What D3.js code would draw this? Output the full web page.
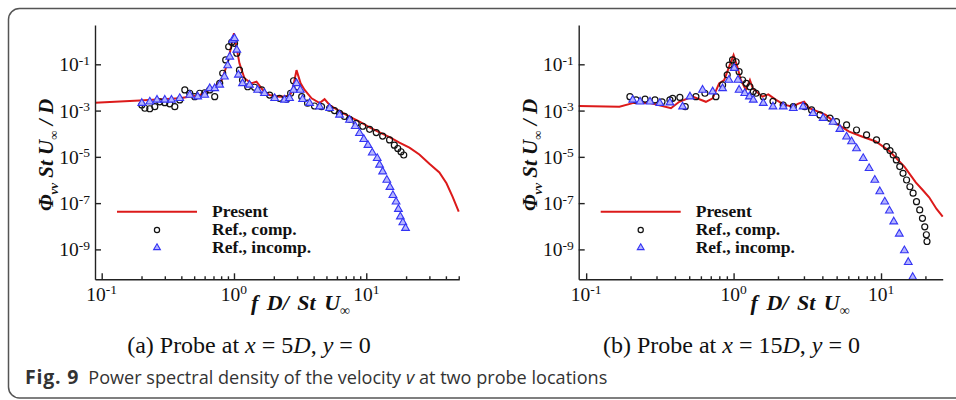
<!doctype html>
<html>
<head>
<meta charset="utf-8">
<title>Fig. 9 - PSD of v</title>
<style>
    body { margin: 0; padding: 0; background: #fff; }
    svg text { font-family: "Liberation Serif", "Times New Roman", serif; fill: #111; }
    svg text.caption { font-family: "Open Sans", sans-serif; fill: #333; }
</style>
</head>
<body>
<svg id="fig" width="956" height="400"></svg>
<script src="https://d3js.org/d3.v7.min.js"></script>
<script>
// (a) probe at x = 5D : [f D / St U, Phi_vv St U / D]
var presentA = [[0.089,2.2e-3],[0.194,2.7e-3],[0.39,3.4e-3],[0.55,4.7e-3],[0.69,9.1e-3],[0.81,2.1e-2],
    [0.90,0.129],[1.0,2.19],[1.10,0.110],[1.20,2.5e-2],[1.35,1.5e-2],[1.48,1.78e-2],[1.65,7.8e-3],
    [1.86,4.7e-3],[2.21,4.0e-3],[2.63,4.3e-3],[2.77,7.8e-3],[2.97,5.6e-2],[3.19,1.5e-2],[3.42,7.8e-3],
    [3.86,3.4e-3],[4.44,2.1e-3],[4.84,3.1e-3],[5.28,1.74e-3],[6.28,9.5e-4],[7.47,5.5e-4],[8.89,3.3e-4],
    [10.6,1.86e-4],[12.6,1.15e-4],[15.0,7.1e-5],[17.8,4.1e-5],[21.2,2.5e-5],[25.2,1.26e-5],[30.0,5.0e-6],
    [35.7,2.1e-6],[40.4,7.2e-7],[44.9,1.9e-7],[50.0,4.3e-8]];
var compA = [[0.201,1.74e-3],[0.212,1.26e-3],[0.231,1.2e-3],[0.252,1.48e-3],[0.275,2.4e-3],[0.300,2.2e-3],
    [0.327,1.95e-3],[0.357,1.48e-3],[0.389,2.9e-3],[0.425,7.8e-3],[0.463,5.6e-3],[0.505,4.0e-3],
    [0.551,5.6e-3],[0.601,5.9e-3],[0.656,7.8e-3],[0.715,4.0e-3],[0.780,1.5e-2],[0.822,4.1e-2],
    [0.866,0.155],[0.912,0.575],[0.961,0.89],[1.01,0.81],[1.05,0.30],[1.10,5.6e-2],[1.16,2.1e-2],
    [1.27,1.07e-2],[1.43,1.02e-2],[1.62,7.8e-3],[1.86,4.7e-3],[2.21,3.4e-3],[2.50,3.1e-3],[2.68,5.6e-3],
    [2.82,1.95e-2],[3.03,1.07e-2],[3.25,4.0e-3],[3.60,2.1e-3],[4.06,1.58e-3],[4.59,1.48e-3],[5.28,1.26e-3],
    [5.75,1.0e-3],[6.28,7.6e-4],[6.85,5.6e-4],[7.47,4.2e-4],[8.39,2.8e-4],[9.41,2.1e-4],[10.6,1.55e-4],
    [11.9,1.12e-4],[13.3,7.9e-5],[15.0,5.4e-5],[16.3,3.2e-5],[17.3,2.3e-5],[18.3,1.66e-5],[19.2,1.2e-5]];
var incompA = [[0.201,2.1e-3],[0.231,2.4e-3],[0.262,2.9e-3],[0.300,2.9e-3],[0.337,2.9e-3],[0.389,3.4e-3],
    [0.463,4.7e-3],[0.532,4.0e-3],[0.601,4.7e-3],[0.656,9.1e-3],[0.715,9.1e-3],[0.780,1.29e-2],
    [0.847,2.9e-2],[0.896,8.9e-2],[0.929,0.21],[0.978,1.12],[1.01,1.32],[1.05,0.42],[1.08,3.5e-2],
    [1.16,1.5e-2],[1.31,1.29e-2],[1.51,7.8e-3],[1.70,5.6e-3],[2.03,3.4e-3],[2.41,2.9e-3],[2.63,3.4e-3],
    [2.82,7.8e-3],[2.97,1.5e-2],[3.17,7.8e-3],[3.30,3.1e-3],[3.73,2.1e-3],[4.44,1.48e-3],[5.28,1.26e-3],
    [6.28,6.5e-4],[7.47,3.9e-4],[8.25,2.1e-4],[8.89,1.05e-4],[9.58,5.8e-5],[10.3,3.2e-5],[11.1,1.51e-5],
    [12.1,8.7e-6],[12.6,4.5e-6],[13.3,2.3e-6],[14.3,1.0e-6],[15.1,4.9e-7],[15.9,2.2e-7],[16.8,1.15e-7],
    [17.5,5.5e-8],[18.1,2.6e-8],[18.9,1.45e-8],[19.8,8.3e-9]];

// (b) probe at x = 15D
var presentB = [[0.089,1.58e-3],[0.168,1.48e-3],[0.207,2.1e-3],[0.268,2.2e-3],[0.376,1.26e-3],[0.428,2.4e-3],
    [0.527,4.0e-3],[0.649,2.4e-3],[0.721,3.4e-3],[0.798,1.5e-2],[0.863,2.1e-2],[0.933,7.9e-2],[1.0,0.25],
    [1.06,7.9e-2],[1.12,2.1e-2],[1.21,7.8e-3],[1.29,2.1e-2],[1.35,9.1e-3],[1.57,4.0e-3],[1.72,5.0e-3],
    [1.94,2.9e-3],[2.2,1.8e-3],[2.51,1.48e-3],[2.75,2.0e-3],[3.01,2.4e-3],[3.26,1.26e-3],[3.6,1.0e-3],
    [4.22,6.5e-4],[4.94,2.8e-4],[6.08,1.23e-4],[7.49,7.4e-5],[9.22,4.6e-5],[11.4,1.78e-5],[14.4,3.8e-6],
    [17.2,7.9e-7],[19.3,3.5e-7],[21.2,1.78e-7],[23.8,5.6e-8],[26.2,2.6e-8]];
var compB = [[0.198,4.0e-3],[0.218,2.9e-3],[0.251,3.1e-3],[0.293,2.9e-3],[0.327,2.4e-3],[0.370,2.9e-3],
    [0.386,3.4e-3],[0.432,3.7e-3],[0.470,1.48e-3],[0.555,4.0e-3],[0.639,5.6e-3],[0.759,4.0e-3],
    [0.842,1.29e-2],[0.905,3.5e-2],[0.933,9.3e-2],[0.984,0.155],[1.04,0.129],[1.09,4.8e-2],[1.15,2.1e-2],
    [1.22,1.5e-2],[1.29,1.07e-2],[1.36,6.6e-3],[1.42,5.6e-3],[1.59,4.0e-3],[1.85,2.5e-3],[2.17,1.74e-3],
    [2.54,1.48e-3],[3.04,1.48e-3],[3.38,1.07e-3],[3.85,6.5e-4],[4.50,4.7e-4],[4.99,3.3e-4],[5.84,2.4e-4],
    [6.82,1.45e-4],[7.98,8.9e-5],[9.32,5.4e-5],[10.9,2.75e-5],[11.5,1.86e-5],[12.1,1.2e-5],[12.7,7.4e-6],
    [13.4,3.8e-6],[14.1,1.95e-6],[14.9,1.0e-6],[15.7,5.1e-7],[16.5,2.7e-7],[17.4,1.15e-7],[18.3,5.1e-8],
    [19.1,2.2e-8],[19.8,9.5e-9],[20.3,4.3e-9],[20.5,2.2e-9]];
var incompB = [[0.207,2.9e-3],[0.232,2.4e-3],[0.271,2.4e-3],[0.316,2.1e-3],[0.370,2.2e-3],[0.451,1.48e-3],
    [0.506,4.0e-3],[0.616,7.8e-3],[0.721,6.6e-3],[0.842,9.1e-3],[0.929,2.1e-2],[1.01,6.8e-2],[1.07,2.1e-2],
    [1.09,7.8e-3],[1.19,5.6e-3],[1.28,4.0e-3],[1.36,2.9e-3],[1.59,2.1e-3],[1.85,1.48e-3],[2.17,1.48e-3],
    [2.54,1.26e-3],[2.96,1.48e-3],[3.46,7.6e-4],[4.05,4.7e-4],[4.73,3.2e-4],[5.26,1.58e-4],[5.84,7.4e-5],
    [6.31,4.6e-5],[6.82,2.3e-5],[7.57,8.7e-6],[8.30,3.2e-6],[9.07,1.0e-6],[9.81,3.2e-7],[10.6,1.15e-7],
    [11.4,4.7e-8],[12.2,1.58e-8],[13.3,4.7e-9],[14.4,8.9e-10],[15.3,2.8e-10],[16.4,6.3e-11]];

var xMajor = [0.1, 1, 10];
var xMajorExp = ["-1", "0", "1"];
var xMinorA = [0.2,0.3,0.4,0.5,0.6,0.7,0.8,0.9,2,3,4,5,6,7,8,9,20,30,40,50];
var xMinorB = [0.2,0.3,0.4,0.5,0.6,0.7,0.8,0.9,2,3,4,5,6,7,8,9,20];
var yMajor = [1e-1, 1e-3, 1e-5, 1e-7, 1e-9];
var yMajorExp = ["-1", "-3", "-5", "-7", "-9"];
var legendLabels = ["Present", "Ref., comp.", "Ref., incomp."];

var red = "#dc1a1a", blue = "#3434f4", black = "#111";

var svg = d3.select("#fig");

svg.append("rect")
    .attr("x", 8.5).attr("y", 8.5)
    .attr("width", 990).attr("height", 389.5)
    .attr("rx", 11)
    .style("fill", "none")
    .style("stroke", "#555")
    .style("stroke-width", 1.5);

function drawPanel(p) {
    var top = 25, bottom = 279.3;

    var x = d3.scaleLog().domain(p.xDomain).range([p.left, p.right]);
    var y = d3.scaleLog().domain([5.1e-11, 5]).range([bottom, top]);

    var g = svg.append("g");

    var line = d3.line()
        .x(function(d) { return x(d[0]); })
        .y(function(d) { return y(d[1]); });

    g.append("path")
        .datum(p.present)
        .attr("d", line)
        .style("fill", "none")
        .style("stroke", red)
        .style("stroke-width", 2);

    g.selectAll(".comp")
        .data(p.comp)
        .enter().append("circle")
        .attr("class", "comp")
        .attr("cx", function(d) { return x(d[0]); })
        .attr("cy", function(d) { return y(d[1]); })
        .attr("r", 3)
        .style("fill", "none")
        .style("stroke", black)
        .style("stroke-width", 1.2);

    var tri = d3.symbol().type(d3.symbolTriangle).size(26);
    g.selectAll(".incomp")
        .data(p.incomp)
        .enter().append("path")
        .attr("class", "incomp")
        .attr("d", tri)
        .attr("transform", function(d) { return "translate(" + x(d[0]) + "," + y(d[1]) + ")"; })
        .style("fill", "#b4b4ff")
        .style("stroke", blue)
        .style("stroke-width", 1.1);

    // axes, ticks pointing inward
    g.append("g")
        .attr("transform", "translate(" + p.left + ",0)")
        .call(d3.axisLeft(y).tickValues(yMajor).tickSizeInner(-6).tickSizeOuter(0).tickFormat(""));

    g.append("g")
        .attr("transform", "translate(0," + bottom + ")")
        .call(d3.axisBottom(x).tickValues(xMajor).tickSizeInner(-6).tickSizeOuter(0).tickFormat(""));

    var xMinor = g.append("g")
        .attr("transform", "translate(0," + bottom + ")")
        .call(d3.axisBottom(x).tickValues(p.xMinor).tickSizeInner(-3).tickSizeOuter(0).tickFormat(""));
    xMinor.select(".domain").remove();

    g.selectAll(".domain, .tick line").style("stroke", "#222").style("stroke-width", 1.4);

    // tick labels 10^n
    var yLab = g.selectAll(".ylab")
        .data(yMajor)
        .enter().append("text")
        .attr("class", "ylab")
        .attr("x", p.left - 5)
        .attr("y", function(d) { return y(d) + 7; })
        .attr("text-anchor", "end")
        .style("font-size", "19.5px");
    yLab.append("tspan").text("10");
    yLab.append("tspan")
        .attr("dy", -6.5)
        .style("font-size", "13.5px")
        .text(function(d, i) { return yMajorExp[i]; });

    var xLab = g.selectAll(".xlab")
        .data(xMajor)
        .enter().append("text")
        .attr("class", "xlab")
        .attr("x", function(d) { return x(d); })
        .attr("y", bottom + 21.4)
        .attr("text-anchor", "middle")
        .style("font-size", "19.5px");
    xLab.append("tspan").text("10");
    xLab.append("tspan")
        .attr("dy", -6.5)
        .style("font-size", "13.5px")
        .text(function(d, i) { return xMajorExp[i]; });

    // axis titles
    var xt = g.append("text")
        .attr("x", x(1) + 17)
        .attr("y", 310)
        .style("font-size", "22px")
        .style("font-weight", "bold")
        .style("font-style", "italic")
        .style("word-spacing", "3px");
    xt.append("tspan").text("f D/ St U");
    xt.append("tspan").attr("dy", 5).style("font-size", "14px").text("\u221e");

    var yt = g.append("text")
        .attr("transform", "translate(" + (p.left - 42) + ",155) rotate(-90)")
        .attr("text-anchor", "middle")
        .style("font-size", "21px")
        .style("font-weight", "bold")
        .style("font-style", "italic");
    yt.append("tspan").text("\u03a6");
    yt.append("tspan").attr("dy", 5).style("font-size", "13px").text("vv");
    yt.append("tspan").attr("dy", -5).text(" St U");
    yt.append("tspan").attr("dy", 5).style("font-size", "13px").text("\u221e");
    yt.append("tspan").attr("dy", -5).text(" / D");

    // legend
    var lx = p.left;
    g.append("line")
        .attr("x1", lx + 22).attr("x2", lx + 102)
        .attr("y1", 211.7).attr("y2", 211.7)
        .style("stroke", red).style("stroke-width", 2);
    g.append("circle")
        .attr("cx", lx + 62).attr("cy", 230).attr("r", 2.6)
        .style("fill", "none").style("stroke", black).style("stroke-width", 1.2);
    g.append("path")
        .attr("d", d3.symbol().type(d3.symbolTriangle).size(20))
        .attr("transform", "translate(" + (lx + 62) + ",247.7)")
        .style("fill", "#b4b4ff").style("stroke", blue).style("stroke-width", 1.1);
    g.selectAll(".leg")
        .data(legendLabels)
        .enter().append("text")
        .attr("class", "leg")
        .attr("x", lx + 117)
        .attr("y", function(d, i) { return 217.3 + i * 18; })
        .style("font-size", "17.5px")
        .style("font-weight", "bold")
        .text(function(d) { return d; });

    // sub caption
    var sc = svg.append("text")
        .attr("x", p.capX)
        .attr("y", 353)
        .attr("text-anchor", "middle")
        .style("font-size", "24px");
    sc.append("tspan").text(p.capPre);
    sc.append("tspan").style("font-style", "italic").text("x");
    sc.append("tspan").text(" = " + p.capNum);
    sc.append("tspan").style("font-style", "italic").text("D");
    sc.append("tspan").text(", ");
    sc.append("tspan").style("font-style", "italic").text("y");
    sc.append("tspan").text(" = 0");
}

drawPanel({
    left: 95, right: 459.3, xDomain: [0.089, 50.5], xMinor: xMinorA,
    present: presentA, comp: compA, incomp: incompA,
    capX: 249, capPre: "(a) Probe at ", capNum: "5"
});

drawPanel({
    left: 578.7, right: 942.7, xDomain: [0.089, 26.2], xMinor: xMinorB,
    present: presentB, comp: compB, incomp: incompB,
    capX: 731.5, capPre: "(b) Probe at ", capNum: "15"
});

// figure caption
var cap = svg.append("text")
    .attr("class", "caption")
    .attr("x", 25)
    .attr("y", 384)
    .style("font-size", "18.1px");
cap.append("tspan").style("font-weight", "bold").style("font-size", "19.5px").style("letter-spacing", "0.8px").text("Fig. 9");
cap.append("tspan").attr("dx", 9).text("Power spectral density of the velocity ");
cap.append("tspan").style("font-style", "italic").text("v");
cap.append("tspan").text(" at two probe locations");
</script>
</body>
</html>
